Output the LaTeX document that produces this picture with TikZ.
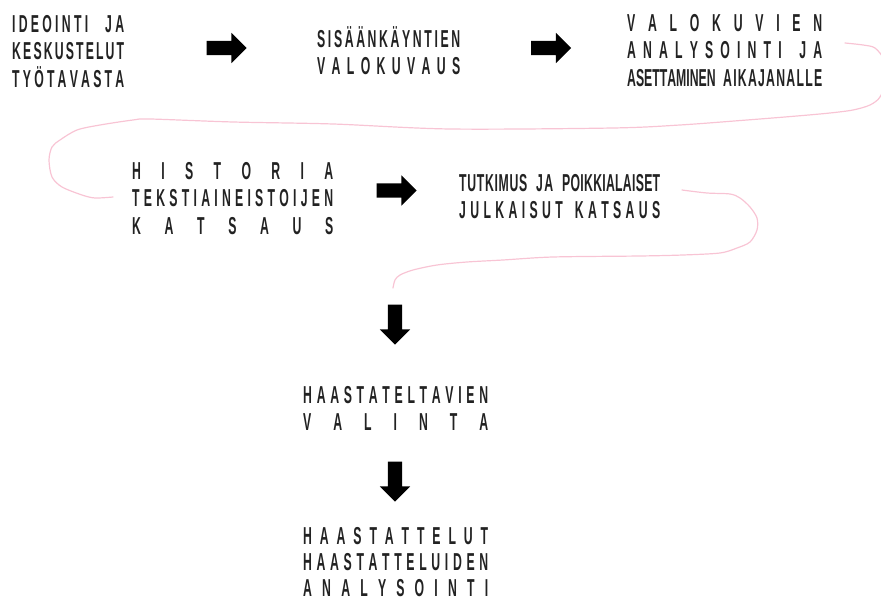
\documentclass[tikz,border=0pt]{standalone}
\usepackage{fontspec}
\setmainfont[FakeStretch=0.5]{Liberation Sans}
\usetikzlibrary{shapes.arrows}
\definecolor{pinkline}{RGB}{248,196,212}
\definecolor{inkgray}{RGB}{34,34,34}
% letters of one word spread over a given width
\def\spreadletters#1{#1\spreadnext}
\def\spreadnext#1{\ifx\relax#1\else\hfil#1\expandafter\spreadnext\fi}
\newcommand\wbox[2]{\makebox[#1][s]{\spreadletters#2\relax}}
% one full line, every letter spread out
\newcommand\lline[2]{\makebox[#1][s]{\rule{0pt}{20pt}\spreadletters#2\relax}}
% one full line made of word boxes
\newcommand\sline[2]{\makebox[#1][s]{\rule{0pt}{20pt}#2}}
\tikzset{
  stepbox/.style={anchor=north west, inner sep=0pt, align=left, text=inkgray,
    font=\fontsize{24.5}{27.5}\selectfont\bfseries},
  bigarrow/.style={single arrow, fill=black, draw=none, inner sep=7pt,
    minimum height=40pt, minimum width=30pt, single arrow head extend=8pt},
  snake/.style={draw=pinkline, line width=1.2pt, line cap=round}
}
\begin{document}
\begin{tikzpicture}[x=1pt, y=-1pt]
        \useasboundingbox (0,0) rectangle (881,601);

        \node[stepbox] (ideointi) at (12,12)
          {\sline{112pt}{\wbox{76pt}{IDEOINTI}\hfil\wbox{19pt}{JA}}\\
           \lline{112pt}{KESKUSTELUT}\\ \lline{112pt}{TYÖTAVASTA}};
        \node[stepbox] (valokuvaus) at (317,26)
          {\lline{143pt}{SISÄÄNKÄYNTIEN}\\ \lline{143pt}{VALOKUVAUS}};
        \node[stepbox] (analyysi) at (627,11)
          {\lline{195pt}{VALOKUVIEN}\\ \lline{195pt}{ANALYSOINTI~JA}\\
           \sline{195pt}{\wbox{86pt}{ASETTAMINEN}\hfil\wbox{99pt}{AIKAJANALLE}}};
        \node[stepbox] (historia) at (132,159)
          {\lline{201pt}{HISTORIA}\\ \lline{201pt}{TEKSTIAINEISTOIJEN}\\ \lline{201pt}{KATSAUS}};
        \node[stepbox] (tutkimus) at (459,171)
          {\sline{201pt}{\wbox{68pt}{TUTKIMUS}\hfil\wbox{17pt}{JA}\hfil\wbox{98pt}{POIKKIALAISET}}\\
           \lline{201pt}{JULKAISUT~KATSAUS}};
        \node[stepbox] (valinta) at (303,383)
          {\lline{185pt}{HAASTATELTAVIEN}\\ \lline{185pt}{VALINTA}};
        \node[stepbox, font=\fontsize{24.5}{26}\selectfont\bfseries] (haastattelut) at (303,524)
          {\lline{185pt}{HAASTATTELUT}\\ \lline{185pt}{HAASTATTELUIDEN}\\ \lline{185pt}{ANALYSOINTI}};

        \node[bigarrow] (arr1) at (223,48) {};
        \node[bigarrow] (arr2) at (547.5,48) {};
        \node[bigarrow] (arr3) at (393,190.5) {};
        \node[bigarrow, shape border rotate=270] (arr4) at (395,321) {};
        \node[bigarrow, shape border rotate=270] (arr5) at (395,478) {};

        \coordinate (s1a) at (845,43);
        \coordinate (s1b) at (113,197);
        \coordinate (s2a) at (682,190);
        \coordinate (s2b) at (393,288);

        \draw[snake] plot[smooth, tension=0.5] coordinates {(s1a) (863,45) (875,48) (884,60)
          (886,80) (880,97) (870,105) (853,110) (830,113) (797,116) (747,120) (680,125)
          (613,128) (450,129) (333,124) (233,122) (150,119) (133,120) (100,125) (77,130)
          (60,140) (52,147) (49,160) (52,177) (62,187) (82,195) (95,198) (s1b)};
        \draw[snake] plot[smooth, tension=0.5] coordinates {(s2a) (707,193) (730,194)
          (740,198) (750,207) (757,218) (757,230) (750,242) (737,248) (720,253) (683,255)
          (640,256) (553,257) (503,260) (467,262) (437,265) (413,270) (400,275) (395,280)
          (s2b)};
    \end{tikzpicture}
\end{document}
